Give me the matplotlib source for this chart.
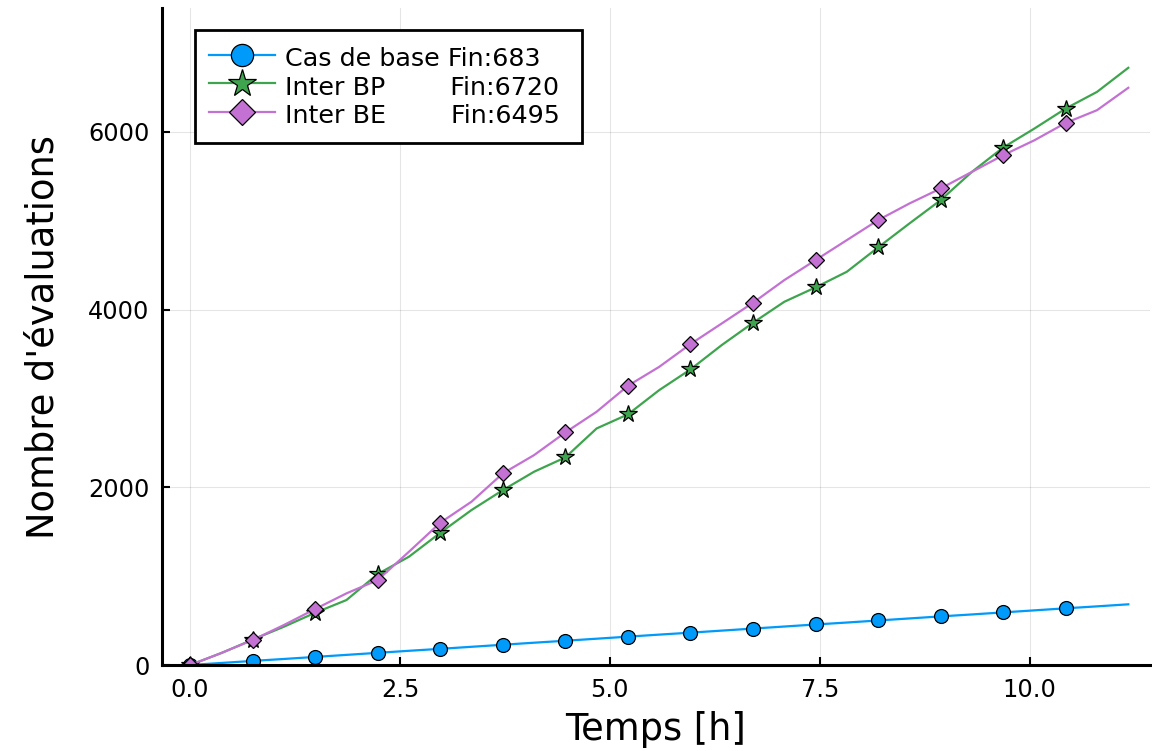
import matplotlib
matplotlib.use("Agg")
import matplotlib.pyplot as plt

# temps (h), markers on every other point
temps = [0.0, 0.3725, 0.745, 1.1175, 1.49, 1.8625, 2.235, 2.6075, 2.98, 3.3525,
         3.725, 4.0975, 4.47, 4.8425, 5.215, 5.5875, 5.96, 6.3325, 6.705, 7.0775,
         7.45, 7.8225, 8.195, 8.5675, 8.94, 9.3125, 9.685, 10.0575, 10.43, 10.8025,
         11.175]

cas_base = [0, 23, 46, 68, 91, 114, 137, 160, 182, 205,
            228, 251, 273, 296, 319, 342, 364, 387, 410, 433,
            456, 478, 501, 524, 547, 569, 592, 615, 638, 660,
            683]

inter_bp = [0, 135, 285, 431, 588, 731, 1024, 1219, 1488, 1744,
            1968, 2175, 2336, 2662, 2820, 3093, 3326, 3600, 3851, 4087,
            4249, 4425, 4699, 4968, 5231, 5549, 5823, 6037, 6262, 6449,
            6720]

inter_be = [0, 135, 281, 450, 630, 806, 956, 1275, 1601, 1838,
            2156, 2362, 2617, 2850, 3142, 3355, 3611, 3843, 4076, 4331,
            4556, 4781, 5006, 5193, 5362, 5549, 5737, 5905, 6100, 6243,
            6495]

labels = ["Cas de base Fin:683",
          "Inter BP        Fin:6720 ",
          "Inter BE        Fin:6495 "]

plt.rcParams['font.family'] = ['DejaVu Sans']

fig = plt.figure(figsize=(11.52, 7.51), dpi=100)
ax = fig.add_axes([0.1406, 0.1145, 0.8574, 0.8745])

marks = slice(0, 29, 2)
ax.plot(temps, cas_base, color='#009AFA', lw=1.6, marker='o', ms=10,
        mec='black', mew=0.9, markevery=marks, label=labels[0])
ax.plot(temps, inter_bp, color='#3EA44E', lw=1.6, marker='*', ms=13,
        mec='black', mew=0.9, markevery=marks, label=labels[1])
ax.plot(temps, inter_be, color='#C371D2', lw=1.6, marker='D', ms=8.5,
        mec='black', mew=0.9, markevery=marks, label=labels[2])

ax.set_xlim(-0.335, 11.43)
ax.set_ylim(0, 7390)
ax.set_xticks([0, 2.5, 5, 7.5, 10])
ax.set_xticklabels(['0.0', '2.5', '5.0', '7.5', '10.0'])
ax.set_yticks([0, 2000, 4000, 6000])

ax.grid(True, color='black', alpha=0.1, lw=0.8)
ax.set_axisbelow(True)
for s in ['top', 'right']:
    ax.spines[s].set_visible(False)
for s in ['left', 'bottom']:
    ax.spines[s].set_linewidth(2.2)
ax.tick_params(direction='in', length=6, width=1.5, labelsize=17.3, pad=9)

ax.set_xlabel("Temps [h]", fontsize=26.5, labelpad=7)
ax.set_ylabel("Nombre d'évaluations", fontsize=26.5, labelpad=19)

leg = ax.legend(loc='upper left', bbox_to_anchor=(0.0334, 0.9676), borderaxespad=0,
                fontsize=18.3, fancybox=False, framealpha=1, edgecolor='black',
                handlelength=2.6, handletextpad=0.38, labelspacing=0.0,
                handleheight=1.34, borderpad=0.55, markerscale=1.6)
leg.get_frame().set_linewidth(2.0)

fig.savefig("out.png", dpi=100)
